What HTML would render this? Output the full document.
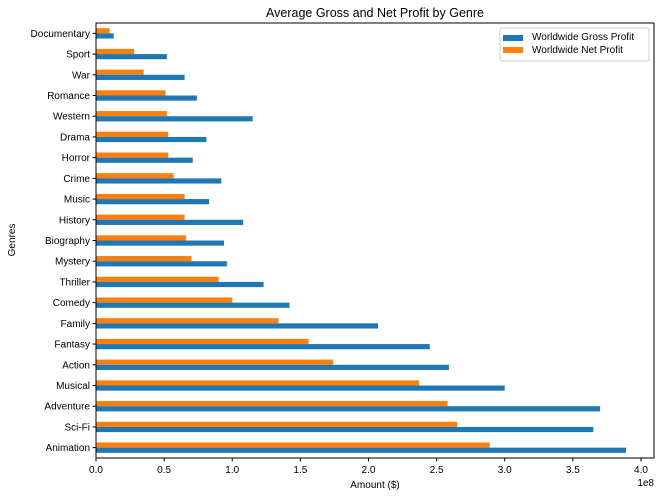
<!DOCTYPE html>
<html><head><meta charset="utf-8"><style>
body{margin:0;background:#fff;}
svg text{font-family:"Liberation Sans","DejaVu Sans",sans-serif;fill:#000;}
</style></head><body>
<svg id="chart" width="661" height="496" xmlns="http://www.w3.org/2000/svg">
<text x="375" y="17" font-size="12.5" text-anchor="middle">Average Gross and Net Profit by Genre</text>
<g id="bars"></g>
<g id="axes"></g>
<rect x="96" y="23" width="558" height="435" fill="none" stroke="#000" stroke-width="1"/>
<text x="375" y="488" font-size="10" text-anchor="middle">Amount ($)</text>
<text x="15" y="240" font-size="10" text-anchor="middle" transform="rotate(-90 15 240)">Genres</text>
<text x="654" y="486" font-size="10" text-anchor="end">1e8</text>
<g>
<rect x="500" y="28" width="149" height="33" rx="2" fill="#fff" stroke="#ccc"/>
<rect x="503" y="35" width="20" height="6" fill="#1f77b4"/>
<text x="532" y="40" font-size="10">Worldwide Gross Profit</text>
<rect x="503" y="47" width="20" height="6" fill="#ff7f0e"/>
<text x="532" y="53" font-size="10">Worldwide Net Profit</text>
</g>
</svg>
<script>
const genres=["Animation","Sci-Fi","Adventure","Musical","Action","Fantasy","Family","Comedy","Thriller","Mystery","Biography","History","Music","Crime","Horror","Drama","Western","Romance","War","Sport","Documentary"];
const gross=[3.89,3.65,3.70,3.00,2.59,2.45,2.07,1.42,1.23,0.96,0.94,1.08,0.83,0.92,0.71,0.81,1.15,0.74,0.65,0.52,0.13];
const net=[2.89,2.65,2.58,2.37,1.74,1.56,1.34,1.00,0.90,0.70,0.66,0.65,0.65,0.57,0.53,0.53,0.52,0.51,0.35,0.28,0.10];
const xTicks=[0,0.5,1.0,1.5,2.0,2.5,3.0,3.5,4.0];
const xTickLabels=["0.0","0.5","1.0","1.5","2.0","2.5","3.0","3.5","4.0"];
</script>
<script>
(function(){
const NS="http://www.w3.org/2000/svg";
const x0=96,xs=136.25,plotTop=23,plotBottom=458;
const n=genres.length, step=(plotBottom-plotTop)/n;
function X(v){return x0+v*xs;}
function Yc(i){return plotBottom-step*(i+0.5);}
const bars=document.getElementById('bars'),axes=document.getElementById('axes');
function mk(t,a){const e=document.createElementNS(NS,t);for(const k in a)e.setAttribute(k,a[k]);return e;}
const bh=step*0.25;
genres.forEach((g,i)=>{
  const c=Yc(i);
  const r1=mk('rect',{x:x0,y:c-bh,width:X(net[i])-x0,height:bh,fill:'#ff7f0e'});
  
  
  bars.appendChild(r1);
  const r2=mk('rect',{x:x0,y:c,width:X(gross[i])-x0,height:bh,fill:'#1f77b4'});
  
  
  bars.appendChild(r2);
  const tk=mk('line',{x1:x0-3.5,x2:x0,y1:c,y2:c,stroke:'#000'});
  
  
  axes.appendChild(tk);
  const t=mk('text',{x:x0-6,y:c+3.5,'font-size':10,'text-anchor':'end'});
  
  
  t.textContent=g;axes.appendChild(t);
});
xTicks.forEach((v,i)=>{
  const xx=X(v);
  const tk=mk('line',{x1:xx,x2:xx,y1:plotBottom,y2:plotBottom+3.5,stroke:'#000'});
  
  
  axes.appendChild(tk);
  const t=mk('text',{x:xx,y:plotBottom+15,'font-size':10,'text-anchor':'middle'});
  
  
  t.textContent=xTickLabels[i];axes.appendChild(t);
});
})();
</script>
</body></html>
